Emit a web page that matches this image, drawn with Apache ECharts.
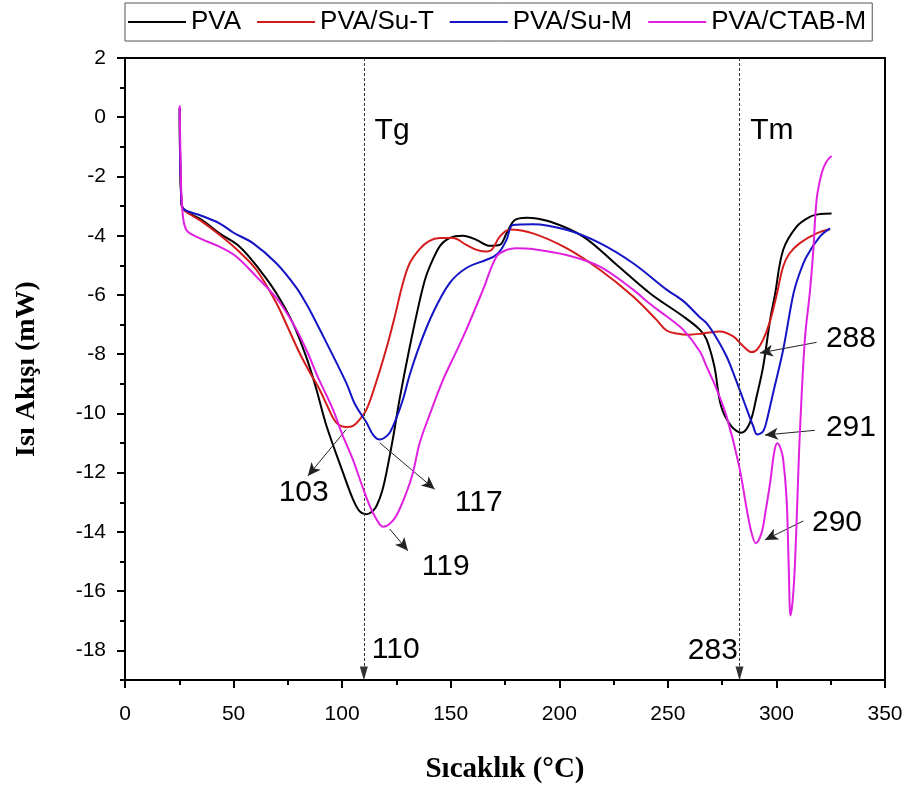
<!DOCTYPE html>
<html>
<head>
<meta charset="utf-8">
<script src="https://cdn.jsdelivr.net/npm/echarts@6/dist/echarts.min.js"></script>
<style>
  html, body { margin: 0; padding: 0; background: #fff; }
  #chart { width: 912px; height: 789px; }
</style>
</head>
<body>
<div id="chart"></div>
<script>
// DSC curves, [temperature °C, heat flow mW]
const pvaPoints = [
  [25.2, 0.3], [26, -2.9], [27.5, -3.15], [35, -3.45], [43.5, -3.92], [52.8, -4.37], [62, -5.15],
  [69.7, -5.94], [77.3, -6.95], [83.5, -8.1], [88, -9.15], [92.7, -10.4], [100.4, -12.0], [105, -12.9],
  [108, -13.3], [111.2, -13.4], [114, -13.3], [116, -13.1], [118.5, -12.6], [120.4, -12.0], [123.5, -10.8],
  [126.5, -9.5], [131, -7.8], [135.7, -6.2], [138.5, -5.4], [141.8, -4.8], [145, -4.35], [148, -4.14],
  [152, -4.02], [155.7, -4.0], [161.8, -4.14], [168, -4.34], [172.6, -4.31], [175.7, -3.92], [179.5, -3.47],
  [184.9, -3.39], [195.6, -3.52], [211, -4.03], [226.4, -4.98], [241.7, -5.94], [257, -6.72], [264.7, -7.17],
  [267.8, -7.5], [271.4, -8.41], [274.5, -9.75], [279.2, -10.43], [283.9, -10.65], [287.8, -10.31],
  [290.9, -9.42], [293.9, -8.41], [297.1, -6.84], [299.3, -6.0], [303.1, -4.48], [309.3, -3.69],
  [315.4, -3.36], [320, -3.27], [325.4, -3.25]
];
const suTPoints = [
  [25.2, 0.3], [26, -2.9], [27.5, -3.15], [35, -3.5], [43.5, -3.97], [52, -4.5], [60.5, -5.15],
  [69.7, -6.27], [75, -7.1], [80.4, -7.96], [85, -8.6], [89.6, -9.19], [93.5, -9.8], [97.3, -10.31],
  [101.9, -10.46], [105, -10.42], [108.1, -10.2], [111.2, -9.87], [115, -9.1], [120.4, -7.8], [124, -6.8],
  [128, -5.6], [131.1, -4.93], [135.7, -4.45], [140, -4.18], [144.9, -4.08], [151, -4.08], [157.2, -4.31],
  [162, -4.48], [165.7, -4.53], [168.8, -4.48], [172.6, -4.03], [177.2, -3.79], [187.9, -3.92],
  [203.3, -4.42], [218.7, -5.15], [234, -6.05], [244.8, -6.84], [249.4, -7.2], [254, -7.3], [260, -7.34],
  [266, -7.3], [273.9, -7.23], [280.1, -7.4], [285, -7.75], [288.5, -7.93], [291, -7.85], [293.9, -7.51],
  [297, -6.9], [300.1, -6.0], [303.1, -5.04], [306, -4.6], [310.8, -4.25], [318.5, -3.92], [324.7, -3.78]
];
const suMPoints = [
  [25.2, 0.3], [26, -2.9], [27.5, -3.13], [34.3, -3.3], [43.5, -3.58], [50, -3.9], [58.9, -4.25],
  [69.7, -4.93], [78.9, -5.75], [83.5, -6.3], [88, -6.92], [92.7, -7.6], [101.9, -8.97], [106, -9.7],
  [111.2, -10.31], [114.5, -10.75], [117.3, -10.88], [119.5, -10.82], [121.9, -10.65], [125, -10.15],
  [128, -9.53], [131.1, -8.7], [135.7, -7.7], [141.8, -6.61], [149.5, -5.6], [157.2, -5.09], [166.5, -4.81],
  [170, -4.7], [172.6, -4.53], [175.7, -4.14], [178.7, -3.64], [187.9, -3.61], [203.3, -3.8], [218.7, -4.25],
  [234, -4.93], [249.4, -5.82], [257, -6.2], [264.7, -6.75], [267.8, -6.95], [272, -7.4], [277, -8.07],
  [281, -8.8], [284.7, -9.53], [289.3, -10.43], [291.1, -10.71], [293.9, -10.6], [296, -10.1], [298.5, -9.3],
  [303.1, -7.85], [307.7, -6.0], [310.5, -5.3], [313.9, -4.7], [320, -4.03], [324.7, -3.75]
];
const ctabPoints = [
  [25.2, 0.4], [25.6, -1.5], [26.3, -3.0], [28.2, -3.8], [34.3, -4.08], [43.5, -4.37], [51.2, -4.7],
  [60.5, -5.38], [69.7, -6.1], [77.3, -6.95], [83.5, -7.85], [89, -8.8], [95.8, -9.87], [100, -10.7],
  [105, -11.57], [109, -12.4], [112.7, -13.12], [116, -13.6], [118.8, -13.83], [121.5, -13.75],
  [124.9, -13.46], [129.6, -12.67], [132.6, -12.0], [135.7, -11.0], [140, -10.1], [146.5, -8.86], [152, -8.0],
  [157.2, -7.17], [164.9, -5.82], [171.1, -4.7], [175.7, -4.48], [180, -4.42], [187.9, -4.45], [203.3, -4.65],
  [218.7, -5.04], [234, -5.82], [241.7, -6.3], [249.4, -6.72], [257, -7.17], [264.7, -7.9], [267.8, -8.41],
  [272, -9.1], [277, -10.09], [282.8, -11.77], [287.8, -13.8], [290.6, -14.38], [293.2, -14.02], [295, -13.3],
  [297.1, -12.34], [299, -11.3], [300.4, -11.01], [302, -11.2], [303.1, -11.55], [304.7, -12.9], [305.6, -15.0],
  [306.5, -16.82], [307.5, -16.3], [308.5, -15.14], [309.6, -13.0], [310.8, -10.65], [313.1, -7.5],
  [315.4, -5.9], [317, -4.48], [318.5, -2.79], [320.8, -1.9], [323, -1.5], [325.4, -1.31]
];

const seriesNames = ["PVA", "PVA/Su-T", "PVA/Su-M", "PVA/CTAB-M"];
const seriesColors = ["#000000", "#d41c1c", "#1414c4", "#e020e0"];

const yMajorTicks = [-18, -16, -14, -12, -10, -8, -6, -4, -2, 0, 2];

// Tg / Tm reference lines
const refValues = [110, 283];

// peak annotations
const noteTexts = ["103", "117", "119", "288", "291", "290", "Tg", "Tm", "110", "283"];
const notePos = [
  [82.3, -12.69], [162.9, -13.03], [147.7, -15.19], [334.3, -7.47], [334.3, -10.47], [327.9, -13.7],
  [123.0, -0.44], [297.9, -0.44], [124.7, -17.98], [270.7, -18.0]
];
const arrowFrom = [[101.9, -10.54], [117.3, -10.99], [121.9, -13.9], [318.5, -7.6], [317.7, -10.57], [312.4, -13.63]];
const arrowTo = [[84.2, -12.11], [142.6, -12.56], [130.3, -14.64], [292.4, -7.96], [294.7, -10.73], [294.7, -14.27]];

const sans = "Liberation Sans, Arial, sans-serif";
const serif = "Liberation Serif, Times New Roman, serif";

const mychart = echarts.init(document.getElementById("chart"));

const curves = [pvaPoints, suTPoints, suMPoints, ctabPoints].map(function(pts, i) {
  return {
    name: seriesNames[i],
    type: "line",
    data: pts,
    symbol: "none",
    smooth: 0.35,
    lineStyle: { width: 2, color: seriesColors[i] },
    itemStyle: { color: seriesColors[i] },
    z: 2 + i
  };
});

const arrowLines = arrowFrom.map(function(p, i) {
  return [
    { coord: p, symbol: "none" },
    { coord: arrowTo[i], symbol: "arrow", symbolSize: [9, 13] }
  ];
});
const refLines = refValues.map(function(v) {
  return [
    { coord: [v, 2], symbol: "none", lineStyle: { type: [3, 2], width: 1, color: "#333" } },
    { coord: [v, -18.78], symbol: "triangle", symbolSize: [8, 14] }
  ];
});

mychart.setOption({
  animation: false,
  backgroundColor: "#fff",
  legend: {
    data: seriesNames,
    left: 125,
    top: 3,
    icon: "rect",
    itemWidth: 58,
    itemHeight: 2,
    itemGap: 16,
    padding: [6, 6, 6, 3],
    borderColor: "#555",
    borderWidth: 1,
    textStyle: { fontSize: 26, color: "#000", fontFamily: sans }
  },
  grid: {
    left: 125,
    right: 27,
    top: 58,
    bottom: 107,
    show: true,
    borderColor: "#000",
    borderWidth: 2,
    backgroundColor: "transparent"
  },
  xAxis: {
    type: "value",
    min: 0,
    max: 350,
    interval: 50,
    name: "Sıcaklık (°C)",
    nameLocation: "middle",
    nameGap: 75,
    nameTextStyle: { fontSize: 29, fontWeight: "bold", color: "#000", fontFamily: serif },
    axisLine: { onZero: false, lineStyle: { color: "#000", width: 2 } },
    axisTick: { length: 8, lineStyle: { width: 2, color: "#000" } },
    minorTick: { show: true, splitNumber: 2, length: 5, lineStyle: { width: 2, color: "#000" } },
    axisLabel: { fontSize: 21, color: "#000", margin: 24, fontFamily: sans },
    splitLine: { show: false }
  },
  yAxis: [
    {
      type: "value",
      min: -19,
      max: 2,
      interval: 1,
      name: "Isı Akışı (mW)",
      nameLocation: "middle",
      nameGap: 84,
      nameTextStyle: { fontSize: 28, fontWeight: "bold", color: "#000", fontFamily: serif },
      axisLine: { onZero: false, lineStyle: { color: "#000", width: 2 } },
      axisTick: { length: 8, customValues: yMajorTicks, lineStyle: { width: 2, color: "#000" } },
      axisLabel: {
        customValues: yMajorTicks,
        fontSize: 21,
        color: "#000",
        margin: 19,
        fontFamily: sans,
        formatter: function(v) { return v % 2 === 0 ? String(v) : ""; }
      },
      splitLine: { show: false }
    },
    {
      type: "value",
      min: -19,
      max: 2,
      interval: 1,
      position: "left",
      offset: 0,
      axisLine: { show: false, onZero: false },
      axisTick: { show: true, length: 5, lineStyle: { width: 2, color: "#000" } },
      axisLabel: { show: false },
      splitLine: { show: false }
    }
  ],
  series: curves.concat([
    {
      name: "notes",
      type: "scatter",
      silent: true,
      symbolSize: 0,
      z: 10,
      itemStyle: { opacity: 1 },
      data: notePos.map(function(p, i) { return { name: noteTexts[i], value: p }; }),
      label: {
        show: true,
        position: "inside",
        formatter: "{b}",
        fontSize: 30,
        color: "#000",
        fontFamily: sans
      },
      markLine: {
        silent: true,
        animation: false,
        label: { show: false },
        lineStyle: { type: "solid", width: 1, color: "#222" },
        symbolSize: [9, 13],
        data: arrowLines.concat(refLines)
      }
    }
  ])
});
</script>
</body>
</html>
